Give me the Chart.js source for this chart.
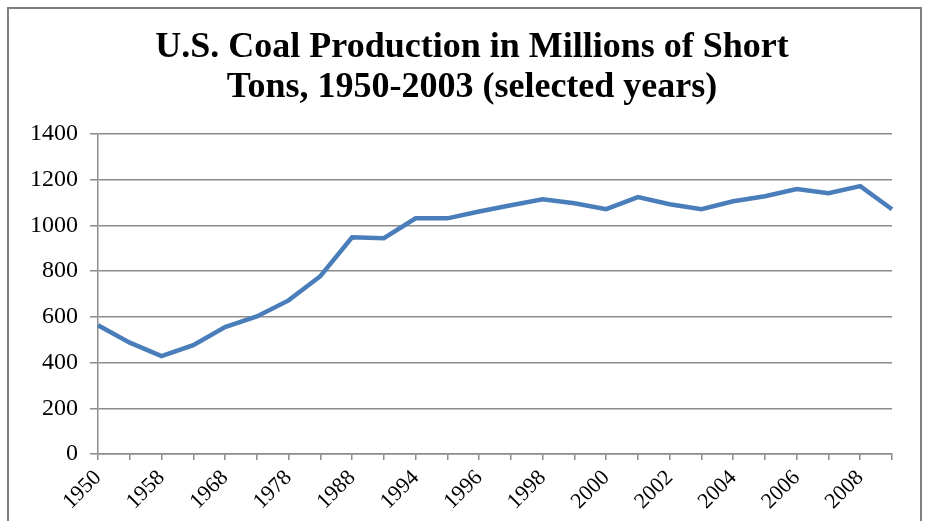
<!DOCTYPE html>
<html>
<head>
<meta charset="utf-8">
<script src="https://cdn.jsdelivr.net/npm/chart.js@4.4.0/dist/chart.umd.min.js"></script>
<style>
  html, body { margin: 0; padding: 0; background: #fff; }
  #wrap { width: 926px; height: 521px; }
</style>
</head>
<body>
<div id="wrap"><canvas id="coalChart" width="926" height="521"></canvas></div>
<script>
// categories (selected years) and production values, millions of short tons
var years = ['1950', '1955', '1958', '1963', '1968', '1973', '1978', '1983', '1988', '1993',
    '1994', '1995', '1996', '1997', '1998', '1999', '2000', '2001', '2002', '2003',
    '2004', '2005', '2006', '2007', '2008', '2009'];
var production = [563, 487, 428, 476, 555, 602, 672, 778, 948, 944,
    1031, 1031, 1061, 1088, 1114, 1097, 1071, 1124, 1093, 1071,
    1106, 1128, 1159, 1141, 1172, 1071];
var titleLines = ['U.S. Coal Production in Millions of Short', 'Tons, 1950-2003 (selected years)'];

var gridGrey = '#8c8c8c';

// grey frame round the chart, like the pasted Excel object
var framePlugin = {
    id: 'frame',
    beforeDraw: function(chart) {
        var c = chart.ctx;
        c.save();
        c.fillStyle = '#fff';
        c.fillRect(0, 0, chart.width, chart.height);
        c.strokeStyle = '#7f7f7f';
        c.lineWidth = 2;
        c.strokeRect(8, 8, 913, 540);
        c.restore();
    }
};

// title drawn by hand so it can sit a bit right of the plot centre, as in Excel
var titlePlugin = {
    id: 'excelTitle',
    afterDraw: function(chart) {
        var c = chart.ctx;
        c.save();
        c.fillStyle = '#000';
        c.font = 'bold 36px "Liberation Serif"';
        c.textAlign = 'center';
        c.textBaseline = 'alphabetic';
        titleLines.forEach(function(line, i) {
            c.fillText(line, 472, 57 + i * 40);
        });
        c.restore();
    }
};

var ctx = document.getElementById('coalChart').getContext('2d');
var coalChart = new Chart(ctx, {
    type: 'line',
    data: {
        labels: years,
        datasets: [{
            label: 'Coal production',
            data: production,
            borderColor: '#4a7ebb',
            borderWidth: 4.5,
            pointRadius: 0,
            tension: 0,
            fill: false
        }]
    },
    options: {
        responsive: false,
        animation: false,
        layout: { padding: { left: 8, right: 34, top: 134, bottom: 0 } },
        plugins: {
            legend: { display: false },
            tooltip: { enabled: false },
            title: { display: false }
        },
        scales: {
            x: {
                offset: false,
                grid: { display: true, drawOnChartArea: false, drawTicks: true, tickLength: 6, color: gridGrey, lineWidth: 1.5 },
                border: { color: gridGrey, width: 1.5 },
                ticks: {
                    autoSkip: false,
                    maxRotation: 45,
                    minRotation: 45,
                    color: '#000',
                    padding: 5,
                    font: { family: 'Liberation Serif', size: 22 },
                    callback: function(value, index) {
                        return index % 2 === 0 ? this.getLabelForValue(value) : '';
                    }
                },
                afterFit: function(scale) { scale.height = 67; }
            },
            y: {
                min: 0,
                max: 1400,
                ticks: {
                    stepSize: 200,
                    color: '#000',
                    padding: 12,
                    font: { family: 'Liberation Serif', size: 24 },
                    callback: function(value) { return String(value); }
                },
                grid: { color: gridGrey, lineWidth: 1.5, tickLength: 8 },
                border: { color: gridGrey, width: 1.5 },
                afterFit: function(scale) { scale.width = 90; }
            }
        }
    },
    plugins: [framePlugin, titlePlugin]
});
</script>
</body>
</html>
